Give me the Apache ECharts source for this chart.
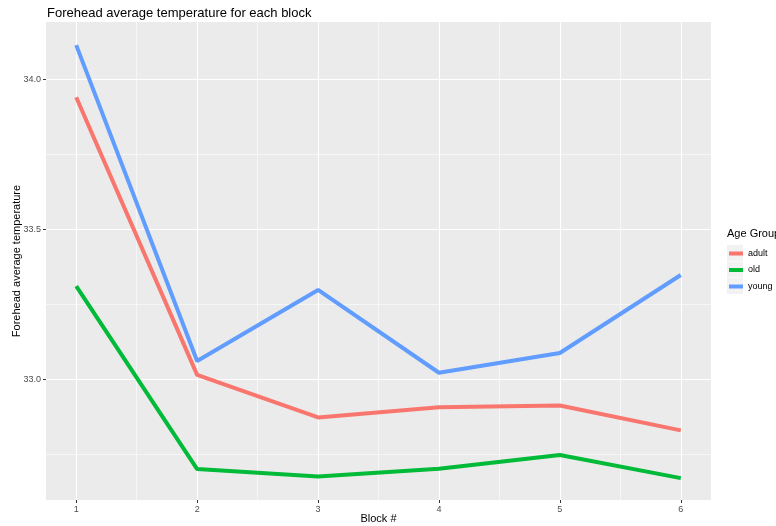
<!DOCTYPE html>
<html>
<head>
<meta charset="utf-8">
<script src="https://cdn.jsdelivr.net/npm/echarts@6/dist/echarts.min.js"></script>
<style>html,body{margin:0;padding:0;background:#fff;}#c{width:776px;height:526px;}</style>
</head>
<body>
<div id="c"></div>
<script>
var blocks = [1, 2, 3, 4, 5, 6];
var adult = [33.940, 33.015, 32.873, 32.907, 32.913, 32.830];
var old = [33.311, 32.701, 32.676, 32.702, 32.748, 32.671];
var young = [34.114, 33.061, 33.298, 33.022, 33.088, 33.348];
var groupNames = ['adult', 'old', 'young'];
var yTicks = [33.0, 33.5, 34.0];
var yMinor = [32.75, 33.25, 33.75];
var xMinor = [1.5, 2.5, 3.5, 4.5, 5.5];

var FONT = '"Liberation Sans", Arial, sans-serif';
var colors = { adult: '#F8766D', old: '#00BA38', young: '#619CFF' };
var seriesData = { adult: adult, old: old, young: young };

function pairs(arr) { return blocks.map(function (b, i) { return [b, arr[i]]; }); }

var gridLines = [];
yTicks.forEach(function (v) { gridLines.push({ yAxis: v, lineStyle: { width: 1.1 } }); });
yMinor.forEach(function (v) { gridLines.push({ yAxis: v, lineStyle: { width: 0.55 } }); });
blocks.forEach(function (v) { gridLines.push({ xAxis: v, lineStyle: { width: 1.1 } }); });
xMinor.forEach(function (v) { gridLines.push({ xAxis: v, lineStyle: { width: 0.55 } }); });

var series = [{
  name: '_grid', type: 'line', data: [], z: 1, silent: true,
  markLine: {
    z: 1, zlevel: 0,
    silent: true, symbol: ['none', 'none'], label: { show: false },
    lineStyle: { color: '#ffffff', type: 'solid' },
    emphasis: { disabled: true },
    animation: false,
    data: gridLines
  }
}];
groupNames.forEach(function (g) {
  series.push({
    name: g, type: 'line', data: pairs(seriesData[g]), z: 3,
    showSymbol: false, symbol: 'none',
    lineStyle: { color: colors[g], width: 4 },
    itemStyle: { color: colors[g] },
    emphasis: { disabled: true }
  });
});

var chart = echarts.init(document.getElementById('c'), null, { renderer: 'canvas' });
chart.setOption({
  animation: false,
  backgroundColor: '#ffffff',
  title: {
    text: 'Forehead average temperature for each block',
    left: 42, top: 2,
    textStyle: { fontFamily: FONT, fontSize: 13, fontWeight: 'normal', color: '#000' }
  },
  grid: { left: 46, right: 65, top: 22, bottom: 26, show: true, backgroundColor: '#EBEBEB', borderWidth: 0,
    containLabel: false, outerBoundsMode: 'none' },
  xAxis: {
    type: 'value', min: 0.75, max: 6.25,
    name: 'Block #', nameLocation: 'middle', nameGap: 13, nameMoveOverlap: false,
    nameTextStyle: { fontFamily: FONT, fontSize: 11, color: '#000' },
    axisLine: { show: false },
    axisTick: { show: true, length: 3, lineStyle: { color: '#333' }, customValues: blocks },
    axisLabel: { fontFamily: FONT, fontSize: 9, color: '#4D4D4D', margin: 5, customValues: blocks },
    splitLine: { show: false }
  },
  yAxis: {
    type: 'value', min: 32.598, max: 34.191,
    name: 'Forehead average temperature', nameLocation: 'middle', nameGap: 24, nameMoveOverlap: false,
    nameTextStyle: { fontFamily: FONT, fontSize: 11, color: '#000' },
    axisLine: { show: false },
    axisTick: { show: true, length: 3, lineStyle: { color: '#333' }, customValues: yTicks },
    axisLabel: { fontFamily: FONT, fontSize: 9, color: '#4D4D4D', margin: 5, customValues: yTicks,
      formatter: function (v) { return v.toFixed(1); } },
    splitLine: { show: false }
  },
  legend: {
    data: groupNames, orient: 'vertical', left: 729, top: 249,
    icon: 'rect', itemWidth: 14, itemHeight: 4, itemGap: 7.5,
    textStyle: { fontFamily: FONT, fontSize: 9, color: '#000', padding: [0, 0, 0, 0] },
    padding: 0, selectedMode: false
  },
  graphic: [
    { type: 'text', left: 727, top: 228, style: { text: 'Age Group', font: '11px ' + FONT, fill: '#000' } },
    { type: 'rect', left: 727, top: 245, shape: { width: 16, height: 16 }, style: { fill: '#F2F2F2' }, z: -1 },
    { type: 'rect', left: 727, top: 261.5, shape: { width: 16, height: 16 }, style: { fill: '#F2F2F2' }, z: -1 },
    { type: 'rect', left: 727, top: 278, shape: { width: 16, height: 16 }, style: { fill: '#F2F2F2' }, z: -1 }
  ],
  series: series
});
</script>
</body>
</html>
